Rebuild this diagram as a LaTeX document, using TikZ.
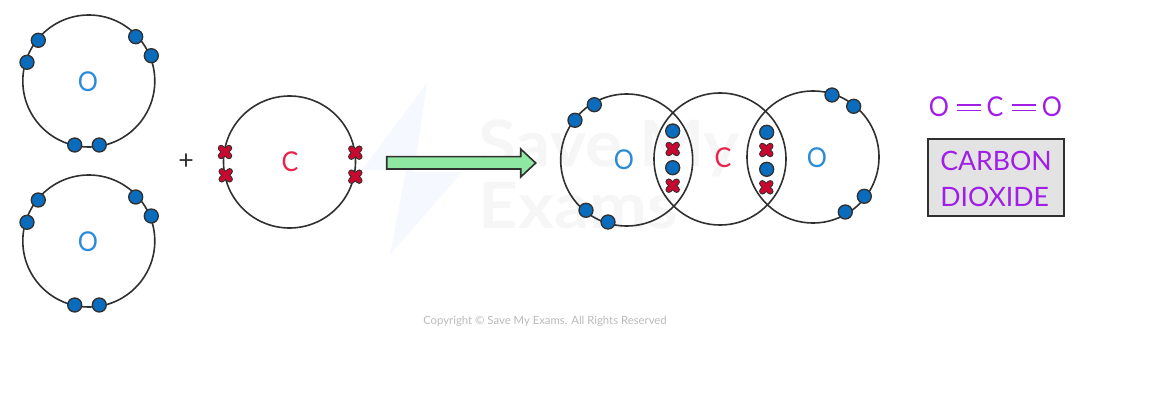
\documentclass[tikz,border=0pt]{standalone}
\usepackage{fontspec}
\setmainfont{Lato}
\newfontfamily\narrowfont{Lato}[FakeStretch=0.92]
\newfontfamily\boxfont{Lato}[FakeStretch=1.0]
\newfontfamily\wmfont{Lato}[UprightFont=* Bold,FakeStretch=1.08]
\definecolor{dotblue}{HTML}{0A6CBC}
\definecolor{xred}{HTML}{C8082E}
\definecolor{lblue}{HTML}{2A8CD8}
\definecolor{lred}{HTML}{E8244C}
\definecolor{lpurple}{HTML}{A01EE6}
\definecolor{ink}{HTML}{303030}
\definecolor{arrowfill}{HTML}{8FE8A2}
\definecolor{boltfill}{HTML}{F5F8FE}
\definecolor{wmgray}{HTML}{F6F6F6}
\tikzset{
  x=0.75pt,y=-0.75pt,
  shell/.style={circle,draw=ink,line width=1.2pt,minimum size=99pt,inner sep=0pt},
  edot/.style={circle,draw=ink,line width=1pt,fill=dotblue,minimum size=10.5pt,inner sep=0pt},
  atomO/.style={text=lblue,font=\narrowfont\fontsize{20.5}{20.5}\selectfont,inner sep=0pt},
  atomC/.style={text=lred,font=\narrowfont\fontsize{20.5}{20.5}\selectfont,inner sep=0pt},
  formula/.style={text=lpurple,font=\narrowfont\fontsize{20.5}{20.5}\selectfont,inner sep=0pt},
  boxtext/.style={text=lpurple,font=\boxfont\fontsize{20}{20}\selectfont,inner sep=0pt,anchor=west},
  bond/.style={draw=lpurple,line width=1.2pt},
  watermark/.style={text=wmgray,font=\wmfont\fontsize{48}{48}\selectfont,inner sep=0pt,anchor=west},
}
\newcommand{\xmk}[2]{%
  \coordinate (#1) at #2;
  \draw[ink,line width=5pt,line cap=round] ([shift={(-3.9,-3.9)}]#1) -- ([shift={(3.9,3.9)}]#1) ([shift={(-3.9,3.9)}]#1) -- ([shift={(3.9,-3.9)}]#1);
  \draw[xred,line width=3.5pt,line cap=round] ([shift={(-3.9,-3.9)}]#1) -- ([shift={(3.9,3.9)}]#1) ([shift={(-3.9,3.9)}]#1) -- ([shift={(3.9,-3.9)}]#1);
}
\begin{document}
\begin{tikzpicture}
\useasboundingbox (0,0) rectangle (1165,403);
% watermark
\fill[boltfill] (427,83) -- (362,170) -- (406,170) -- (390,255) -- (462,172) -- (414,172) -- cycle;
\node[watermark] (wm1) at (478,148) {Save My};
\node[watermark] (wm2) at (478,206) {Exams};
\node[text=black!27,font=\fontsize{8.5}{8.5}\selectfont,inner sep=0pt] (copy) at (545,321) {Copyright © Save My Exams. All Rights Reserved};
% reactants
\node[shell] (o1) at (88.8,81) {};
\node[shell] (o2) at (88.8,241) {};
\node[shell] (c1) at (289.5,162) {};
\node[atomO] (lo1) at (88,82) {O};
\node[atomO] (lo2) at (88,242) {O};
\node[atomC] (lc1) at (290,162) {C};
\node[font=\fontsize{20}{20}\selectfont,text=ink,inner sep=0pt] (plus) at (186,162) {+};
\foreach \n/\p in {a/{38.3,40.3},b/{27,62.3},c/{135.7,36.7},d/{151.3,55.7},e/{74.7,145},f/{99.3,145},
  g/{38.3,200},h/{27,222.3},i/{135.7,197},j/{151.3,216},k/{74.7,305},l/{99.3,305}}
  \node[edot] (d\n) at (\p) {};
\xmk{xa}{(225,152)}
\xmk{xb}{(225.7,175.3)}
\xmk{xc}{(355.3,152.7)}
\xmk{xd}{(355.3,176.7)}
% arrow
\draw[ink,line width=1.2pt,fill=arrowfill,line join=miter]
  (386.7,156.7) -- (520.7,156.7) -- (520.7,149) -- (535.7,163) -- (520.7,177) -- (520.7,169) -- (386.7,169) -- cycle;
% product
\node[shell] (po1) at (626.7,160) {};
\node[shell] (pc) at (720,159) {};
\node[shell] (po2) at (813,157) {};
\node[atomO] (lpo1) at (624,160) {O};
\node[atomC] (lpc) at (723,158) {C};
\node[atomO] (lpo2) at (817,158) {O};
\foreach \n/\p in {a/{575,120.3},b/{594.3,104.7},c/{586,210.3},d/{608,222},
  e/{672.7,131},f/{672.7,167.7},g/{766.7,132.3},h/{766.7,169.3},
  i/{832,95},j/{853.7,106.3},k/{864.3,196.3},l/{845.3,212}}
  \node[edot] (p\n) at (\p) {};
\xmk{xe}{(672.7,149)}
\xmk{xf}{(672.7,185.7)}
\xmk{xg}{(766.3,150)}
\xmk{xh}{(766.3,187.3)}
% formula
\node[formula] (f1) at (939,107) {O};
\node[formula] (f2) at (995,107) {C};
\node[formula] (f3) at (1052,107) {O};
\draw[bond] (956.7,105) -- (980.7,105) (956.7,110.7) -- (980.7,110.7);
\draw[bond] (1012,105) -- (1035.7,105) (1012,110.7) -- (1035.7,110.7);
\node[draw=ink,line width=1.3pt,fill=black!11,minimum width=101.5pt,minimum height=57.7pt,inner sep=0pt] (box) at (996,177.8) {};
\node[boxtext] (t1) at (940,160.7) {CARBON};
\node[boxtext] (t2) at (940,196.7) {DIOXIDE};
\end{tikzpicture}
\end{document}
